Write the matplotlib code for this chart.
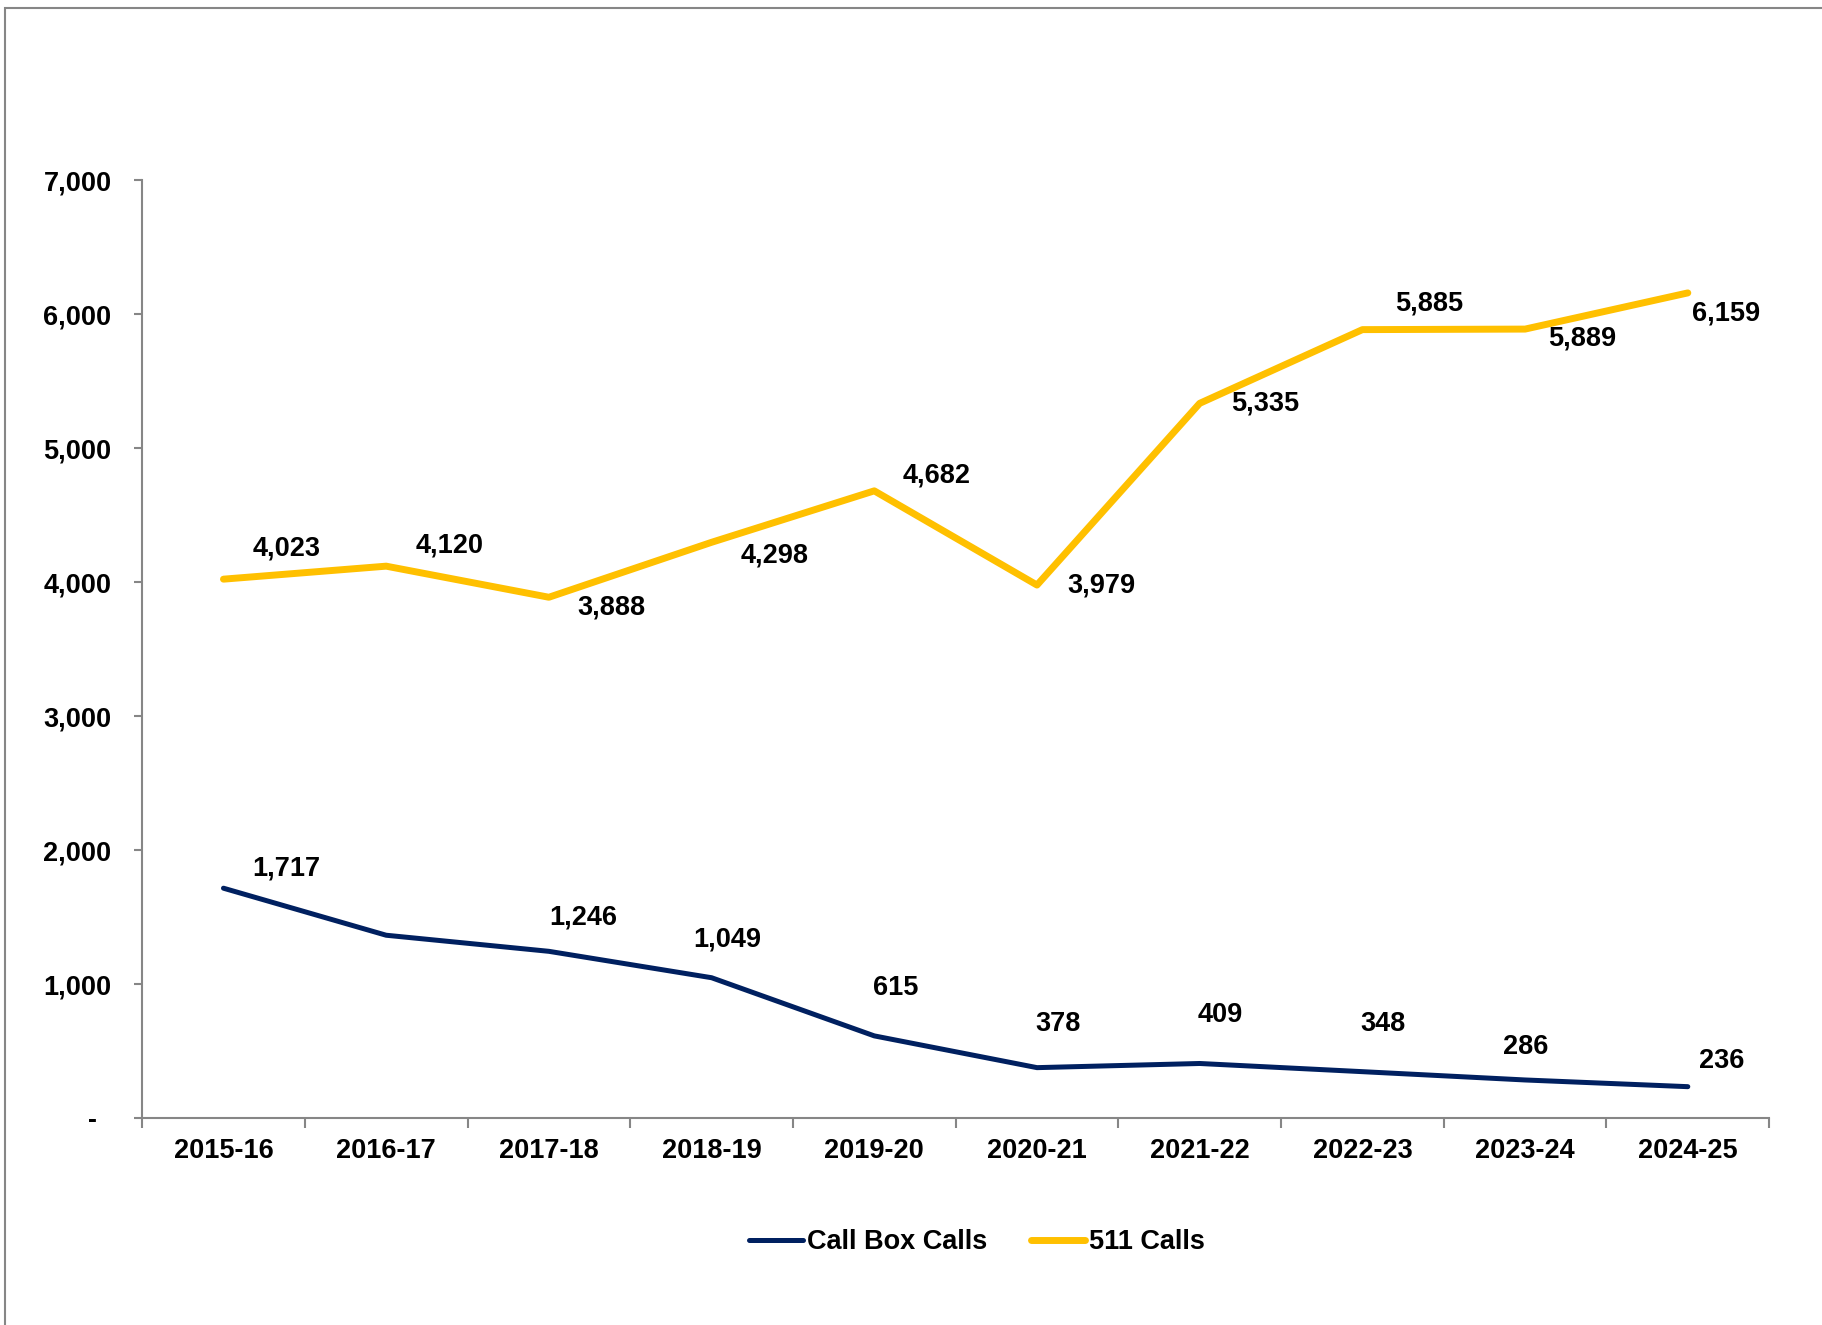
import matplotlib.pyplot as plt
from matplotlib.patches import Rectangle

years = ["2015-16", "2016-17", "2017-18", "2018-19", "2019-20",
         "2020-21", "2021-22", "2022-23", "2023-24", "2024-25"]
call_box = [1717, 1366, 1246, 1049, 615, 378, 409, 348, 286, 236]
calls_511 = [4023, 4120, 3888, 4298, 4682, 3979, 5335, 5885, 5889, 6159]
show_box_label = [True, False, True, True, True, True, True, True, True, True]

# label offsets in pixels (dx, dy), dy up positive
off_511 = [(63, 31), (63, 21), (63, -10), (63, -13), (62, 15),
           (64, 0), (65, 0), (67, 26), (57, -9), (38, -21)]
off_box = [(63, 20), (0, 0), (34, 34), (16, 38), (21, 48),
           (21, 44), (21, 48), (21, 48), (1, 33), (34, 26)]

plt.rcParams['font.family'] = ['Liberation Sans', 'DejaVu Sans']
plt.rcParams['font.weight'] = 'bold'

navy = '#002060'
gold = '#FFC000'
grey = '#868686'

fig = plt.figure(figsize=(18.22, 13.25), dpi=100)
ax = fig.add_axes([0.078, 0.156, 0.893, 0.708])

x = list(range(len(years)))
ax.plot(x, call_box, color=navy, lw=3.6, solid_capstyle='round', label='Call Box Calls')
ax.plot(x, calls_511, color=gold, lw=5, solid_capstyle='round', label='511 Calls')

for i in x:
    ax.annotate(f"{calls_511[i]:,}", (i, calls_511[i]), xytext=off_511[i],
                textcoords='offset pixels', ha='center', va='center',
                fontsize=19.5, fontweight='bold')
    if show_box_label[i]:
        ax.annotate(f"{call_box[i]:,}", (i, call_box[i]), xytext=off_box[i],
                    textcoords='offset pixels', ha='center', va='center',
                    fontsize=19.5, fontweight='bold')

ax.set_xlim(-0.5, len(years) - 0.5)
ax.set_ylim(0, 7000)
ax.set_yticks(range(0, 7001, 1000))
ax.set_yticklabels(['-  '] + [f"{v:,}" for v in range(1000, 7001, 1000)])
ax.set_xticks(x)
ax.set_xticklabels(years)
ax.set_xticks([i - 0.5 for i in range(len(years) + 1)], minor=True)

ax.tick_params(axis='y', length=6, width=1.5, color=grey, pad=16, labelsize=19.5)
ax.tick_params(axis='x', which='major', length=0, pad=14, labelsize=19.5)
ax.tick_params(axis='x', which='minor', length=7, width=1.5, color=grey)
for lab in ax.get_xticklabels() + ax.get_yticklabels():
    lab.set_fontweight('bold')

for s in ['top', 'right']:
    ax.spines[s].set_visible(False)
for s in ['left', 'bottom']:
    ax.spines[s].set_color(grey)
    ax.spines[s].set_linewidth(1.5)

ax.legend(loc='center', bbox_to_anchor=(0.513, -0.132), ncol=2, frameon=False,
          handlelength=2.0, columnspacing=1.6, handletextpad=0.15,
          prop={'weight': 'bold', 'size': 19.5})

fig.patches.append(Rectangle((0.003, -0.1), 1.2, 1.094, transform=fig.transFigure,
                             fill=False, edgecolor=grey, lw=1.5))

fig.savefig('out.png', dpi=100)
